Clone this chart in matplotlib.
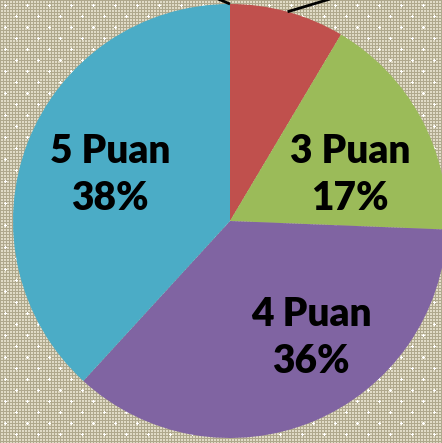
import numpy as np
import matplotlib
matplotlib.use("Agg")
import matplotlib.pyplot as plt

labels = ["1 Puan", "2 Puan", "3 Puan", "4 Puan", "5 Puan"]
values = [0, 8.5, 17, 36, 38]
pct = ["0%", "9%", "17%", "36%", "38%"]
colors = ["#F79646", "#C0504D", "#9BBB59", "#8064A2", "#4BACC6"]

W, H = 442, 443
fig = plt.figure(figsize=(W / 100, H / 100), dpi=100)
ax = fig.add_axes([0, 0, 1, 1])

# textured background
yy, xx = np.mgrid[0:H, 0:W]
tan = np.array([0.69, 0.66, 0.55])
light = np.array([0.88, 0.86, 0.78])
img = np.where(((xx % 3 != 0) & (yy % 3 != 0))[..., None], light, tan)
for (ox, oy) in [(5, 5), (16, 16)]:
    cx = (xx % 22) - ox
    cy = (yy % 22) - oy
    star = ((np.abs(cx) <= 1) & (cy == 0)) | ((np.abs(cy) <= 1) & (cx == 0))
    img[star] = [1, 1, 1]
ax.imshow(img, extent=[0, W, 0, H], origin="upper", zorder=0, interpolation="nearest")

cx0, cy0, R = 230, 222, 217
wedges, _ = ax.pie(values, colors=colors, startangle=90, counterclock=False,
                   center=(cx0, cy0), radius=R, frame=True,
                   wedgeprops=dict(linewidth=0))
ax.set_xlim(0, W)
ax.set_ylim(0, H)
ax.set_aspect("equal")
ax.axis("off")
for w in wedges:
    w.set_zorder(2)

# leader lines for the outside labels (labels lie beyond the visible area)
ext = {0: (-40, 17), 1: (60, 18)}
for i, (dx, dy) in ext.items():
    w = wedges[i]
    ang = np.deg2rad((w.theta1 + w.theta2) / 2)
    sx, sy = cx0 + R * np.cos(ang), cy0 + R * np.sin(ang)
    ax.plot([sx, sx + dx], [sy, sy + dy], color="black", lw=2, zorder=3,
            solid_capstyle="butt")

pos = {2: (350, 268), 3: (311, 105), 4: (110, 268)}
for i, (x, y) in pos.items():
    ax.text(x, y, f"{labels[i]}\n{pct[i]}", ha="center", va="center",
            fontsize=28, fontweight="heavy", family="Lato", color="black",
            linespacing=1.36, zorder=4)

fig.savefig("out.png", dpi=100)
